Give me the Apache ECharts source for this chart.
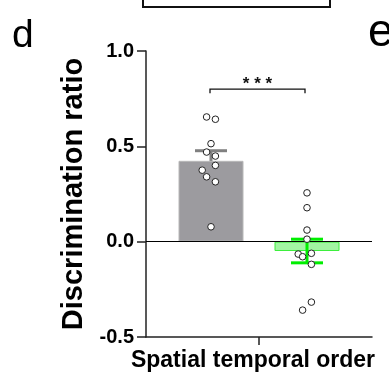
<!DOCTYPE html>
<html>
<head>
<meta charset="utf-8">
<script src="https://cdn.jsdelivr.net/npm/echarts@6/dist/echarts.min.js"></script>
<style>
html,body{margin:0;padding:0;background:#fff;}
#c{width:389px;height:379px;}
</style>
</head>
<body>
<div id="c"></div>
<script>
// ---- data ----
var categories = ['Spatial temporal order'];
var groupNames = ['Control', 'Treatment'];
var groupMeans = [0.424, -0.049];
var groupSems = [0.053, 0.062];
var pointsGray = [0.654, 0.642, 0.514, 0.470, 0.449, 0.400, 0.375, 0.340, 0.314, 0.078];
var jitterGray = [-1, 1, 0, -1, 1, 1, -2, -1, 1, 0];
var pointsGreen = [0.256, 0.178, 0.061, 0.013, -0.061, -0.065, -0.079, -0.119, -0.317, -0.359];
var jitterGreen = [0, 0, 0, 0, 1, -2, -1, 1, 1, -1];
var yTicks = [-0.5, 0.0, 0.5, 1.0];
var sigLabel = '* * *';
var sigLevel = [0.80];

// ---- styling ----
var FONT = 'Liberation Sans, Arial, sans-serif';
var BAR_W = 65, BAR_GAP = 31;
var JIT = 4.4;
var groupOffset = [-(BAR_W + BAR_GAP) / 2, (BAR_W + BAR_GAP) / 2];
var fillCol = ['#9c9b9f', '#a3f5a3'];
var edgeCol = ['#b8b8b8', '#3dee3d'];
var errCol = ['#808080', '#00ee00'];

function errSeries(g, z) {
  return {
    type: 'custom', z: z, silent: true,
    data: [[0, groupMeans[g], groupSems[g]]],
    renderItem: function (params, api) {
      var m = api.value(1), s = api.value(2);
      var top = api.coord([0, m + s]);
      var bot = api.coord([0, m - s]);
      var x = top[0] + groupOffset[g];
      var st = {stroke: errCol[g], lineWidth: 3};
      return {type: 'group', children: [
        {type: 'line', shape: {x1: x, y1: top[1], x2: x, y2: bot[1]}, style: st},
        {type: 'line', shape: {x1: x - 16, y1: top[1], x2: x + 16, y2: top[1]}, style: st},
        {type: 'line', shape: {x1: x - 16, y1: bot[1], x2: x + 16, y2: bot[1]}, style: st}
      ]};
    }
  };
}

function pointSeries(g, vals, jit) {
  return {
    type: 'custom', z: 5, silent: true,
    data: vals.map(function (v, i) { return [0, v, jit[i]]; }),
    renderItem: function (params, api) {
      var p = api.coord([0, api.value(1)]);
      return {type: 'circle',
        shape: {cx: p[0] + groupOffset[g] + api.value(2) * JIT, cy: p[1], r: 3.3},
        style: {fill: '#fff', stroke: '#222', lineWidth: 1}};
    }
  };
}

var chart = echarts.init(document.getElementById('c'), null, {renderer: 'canvas'});
chart.setOption({
  animation: false,
  backgroundColor: '#fff',
  grid: {left: 146, right: 17, top: 51, bottom: 42, containLabel: false},
  xAxis: {
    type: 'category', data: categories,
    axisLine: {onZero: false, lineStyle: {color: '#222', width: 1.5}},
    axisTick: {show: true, alignWithLabel: true, length: 8, lineStyle: {color: '#222', width: 1.5}},
    axisLabel: {fontFamily: FONT, fontWeight: 'bold', fontSize: 23, color: '#000', margin: 12, padding: [0, 12, 0, 0]}
  },
  yAxis: {
    type: 'value', min: yTicks[0], max: yTicks[yTicks.length - 1], interval: 0.5,
    name: 'Discrimination ratio', nameLocation: 'middle', nameRotate: 90, nameGap: 58,
    nameTextStyle: {fontFamily: FONT, fontWeight: 'bold', fontSize: 29, color: '#000'},
    splitLine: {show: false},
    axisLine: {show: true, lineStyle: {color: '#222', width: 1.5}},
    axisTick: {show: true, length: 9, lineStyle: {color: '#222', width: 1.5}},
    axisLabel: {fontFamily: FONT, fontWeight: 'bold', fontSize: 20, color: '#000', margin: 12,
      formatter: function (v) { return v.toFixed(1); }}
  },
  series: [
    errSeries(0, 1),
    {
      name: groupNames[0], type: 'bar', z: 2, barWidth: BAR_W, barGap: (BAR_GAP / BAR_W * 100) + '%',
      data: [groupMeans[0]],
      itemStyle: {color: fillCol[0], borderColor: edgeCol[0], borderWidth: 1},
      markLine: {silent: true, symbol: 'none', label: {show: false},
        lineStyle: {color: '#000', width: 1, type: 'solid'}, data: [{yAxis: 0}]}
    },
    {
      name: groupNames[1], type: 'bar', z: 2, barWidth: BAR_W,
      data: [groupMeans[1]],
      itemStyle: {color: fillCol[1], borderColor: edgeCol[1], borderWidth: 1}
    },
    errSeries(1, 3),
    pointSeries(0, pointsGray, jitterGray),
    pointSeries(1, pointsGreen, jitterGreen),
    {
      type: 'custom', z: 5, silent: true,
      data: [[0, sigLevel[0]]],
      renderItem: function (params, api) {
        var p = api.coord([0, api.value(1)]);
        var x1 = p[0] + groupOffset[0] - 1, x2 = p[0] + groupOffset[1] - 2;
        var st = {stroke: '#111', lineWidth: 1.3};
        return {type: 'group', children: [
          {type: 'polyline', shape: {points: [[x1, p[1] + 4], [x1, p[1]], [x2, p[1]], [x2, p[1] + 4]]}, style: Object.assign({fill: null}, st)},
          {type: 'text', x: (x1 + x2) / 2, y: p[1] - 5,
            style: {text: sigLabel, fontFamily: FONT, fontSize: 17, fontWeight: 'bold', fill: '#111', align: 'center', verticalAlign: 'middle'}}
        ]};
      }
    }
  ],
  graphic: [
    {type: 'polyline', shape: {points: [[143, 0], [143, 7], [330, 7], [330, 0]]}, style: {stroke: '#111', lineWidth: 2, fill: null}},
    {type: 'text', left: 12, top: 17, style: {text: 'd', fontFamily: FONT, fontSize: 39, fill: '#000'}},
    {type: 'text', left: 368, top: 10, style: {text: 'e', fontFamily: FONT, fontSize: 46, fill: '#000'}}
  ]
});
</script>
</body>
</html>
